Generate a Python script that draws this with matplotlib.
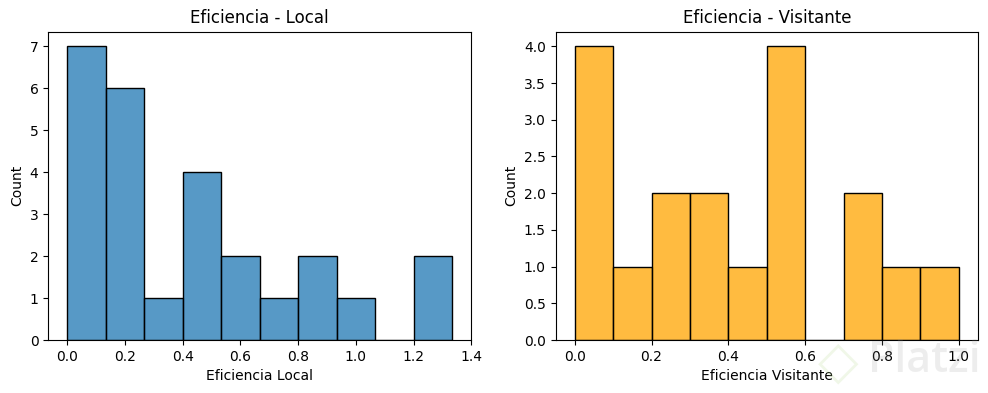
import matplotlib
matplotlib.use("Agg")
import matplotlib.pyplot as plt
from matplotlib.colors import to_rgba
import numpy as np

local_counts = [7, 6, 1, 4, 2, 1, 2, 1, 0, 2]
local_edges = [0, 0.1333, 0.2667, 0.4, 0.5333, 0.6667, 0.8, 0.9333, 1.0667, 1.2, 1.3333]
visit_counts = [4, 1, 2, 2, 1, 4, 0, 2, 1, 1]
visit_edges = [0, 0.1, 0.2, 0.3, 0.4, 0.5, 0.6, 0.7, 0.8, 0.9, 1.0]

W, H = 988, 393
fig = plt.figure(figsize=(W/100, H/100), dpi=100)
top, bottom = 31.6, 340.0
ax1 = fig.add_axes([48.2/W, 1-bottom/H, 423.0/W, (bottom-top)/H])
ax2 = fig.add_axes([555.5/W, 1-bottom/H, 422.5/W, (bottom-top)/H])

ax1.hist(local_edges[:-1], bins=local_edges, weights=local_counts,
         facecolor=to_rgba("#1f77b4", 0.75), edgecolor="black", linewidth=1.0)
ax2.hist(visit_edges[:-1], bins=visit_edges, weights=visit_counts,
         facecolor=to_rgba("#ffa500", 0.75), edgecolor="black", linewidth=1.0)

ax1.set_title("Eficiencia - Local", fontsize=12)
ax1.set_xlabel("Eficiencia Local", fontsize=10)
ax1.set_ylabel("Count", fontsize=10)
ax2.set_title("Eficiencia - Visitante", fontsize=12)
ax2.set_xlabel("Eficiencia Visitante", fontsize=10)
ax2.set_ylabel("Count", fontsize=10)
ax1.set_xticks([0, 0.2, 0.4, 0.6, 0.8, 1.0, 1.2, 1.4])
ax1.set_xlim(-0.0667, 1.4)
ax2.set_xlim(-0.05, 1.05)
ax2.set_yticks(np.arange(0, 4.5, 0.5))

# faint watermark
fig.text(924/W, 1-361/H, "Platzi", fontsize=31, color="#9a9a9a", alpha=0.17,
         ha="center", va="center", zorder=5, family="Open Sans", fontweight="semibold")
fig.text(838/W, 1-362/H, "\u25C7", fontsize=38, color="#b5d98c", alpha=0.2,
         ha="center", va="center", zorder=5, family="DejaVu Sans", fontweight="bold")
fig.savefig("out.png", dpi=100)
